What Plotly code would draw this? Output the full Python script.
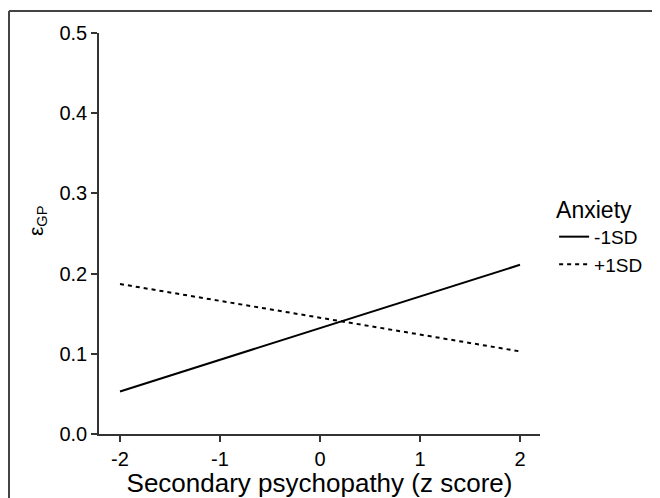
import plotly.graph_objects as go

x_vals = [-2, 2]
low_anx = [0.053, 0.211]   # -1SD
high_anx = [0.187, 0.103]  # +1SD
series_names = ["-1SD", "+1SD"]
x_ticks = [-2, -1, 0, 1, 2]
y_ticks = [0.0, 0.1, 0.2, 0.3, 0.4, 0.5]

# page has an 8px body margin; the figure fills the rest of the 660x498 window
W, H = 652, 490
L, R, T, B = 91, 120, 25, 64
pw, ph = W - L - R, H - T - B

fig = go.Figure()
fig.add_trace(go.Scatter(x=x_vals, y=low_anx, mode="lines", name=series_names[0],
                         line=dict(color="black", width=2)))
fig.add_trace(go.Scatter(x=x_vals, y=high_anx, mode="lines", name=series_names[1],
                         line=dict(color="black", width=2, dash="4px,4px")))

font = "Liberation Sans, Arial, sans-serif"
axis_common = dict(showgrid=False, zeroline=False, showline=True, linecolor="#333",
                   linewidth=1.5, ticks="outside", ticklen=6, tickwidth=1.5,
                   tickcolor="#333", tickfont=dict(size=20, color="black", family=font),
                   automargin=False)

fig.update_xaxes(range=[-2.21, 2.2], tickvals=x_ticks, ticktext=[str(v) for v in x_ticks],
                 title=dict(text="Secondary psychopathy (z score)",
                            font=dict(size=26, color="black", family=font), standoff=12),
                 **axis_common)
fig.update_yaxes(range=[0, 0.5], tickvals=y_ticks, ticktext=[f"{v:.1f}" for v in y_ticks],
                 **axis_common)

fig.add_annotation(text="ε<sub>GP</sub>", xref="paper", yref="paper",
                   x=(29 - L) / pw, y=(H - B - 213) / ph, xanchor="center", yanchor="middle",
                   textangle=-90, showarrow=False,
                   font=dict(size=21, color="black", family=font))

# outer frame (top and left edges)
fx = (1 - L) / pw
fy = (H - B - 3) / ph
fig.add_shape(type="line", xref="paper", yref="paper", x0=fx, y0=fy, x1=1.5, y1=fy,
              line=dict(color="#444", width=2))
fig.add_shape(type="line", xref="paper", yref="paper", x0=fx, y0=fy, x1=fx, y1=-0.5,
              line=dict(color="#444", width=2))

fig.update_layout(
    width=W, height=H,
    margin=dict(l=L, r=R, t=T, b=B),
    plot_bgcolor="white", paper_bgcolor="white",
    font=dict(family=font, color="black"),
    showlegend=True,
    legend=dict(title=dict(text="Anxiety", font=dict(size=23, family=font)),
                font=dict(size=19, family=font), x=1.032, y=0.494, xanchor="left",
                yanchor="middle", tracegroupgap=0, itemwidth=30, bgcolor="rgba(0,0,0,0)"),
)

fig.write_html("out.html")
